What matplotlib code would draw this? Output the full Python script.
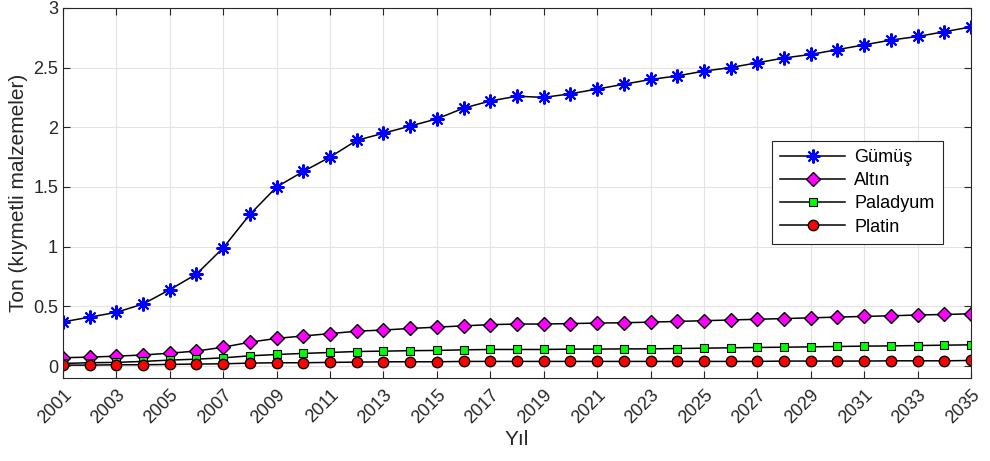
#!/usr/bin/env python3
"""Precious material tonnage by year (Gümüş, Altın, Paladyum, Platin)."""

import matplotlib

matplotlib.use("Agg")
import matplotlib.pyplot as plt
import numpy as np

years = list(range(2001, 2036))

gumus = [0.37, 0.41, 0.45, 0.52, 0.64, 0.77, 0.99, 1.27, 1.50, 1.63,
         1.75, 1.89, 1.95, 2.01, 2.07, 2.16, 2.22, 2.26, 2.25, 2.28,
         2.32, 2.36, 2.40, 2.43, 2.47, 2.50, 2.54, 2.58, 2.61, 2.65,
         2.69, 2.73, 2.76, 2.80, 2.84]

altin = [0.07, 0.075, 0.083, 0.093, 0.108, 0.126, 0.158, 0.2, 0.232, 0.252,
         0.272, 0.292, 0.302, 0.315, 0.326, 0.337, 0.347, 0.352, 0.352, 0.356,
         0.36, 0.363, 0.368, 0.374, 0.38, 0.386, 0.392, 0.398, 0.404, 0.41,
         0.416, 0.421, 0.428, 0.432, 0.438]

paladyum = [0.022, 0.028, 0.031, 0.039, 0.05, 0.058, 0.069, 0.086, 0.097, 0.106,
            0.114, 0.122, 0.125, 0.129, 0.131, 0.136, 0.139, 0.139, 0.139, 0.142,
            0.142, 0.144, 0.144, 0.147, 0.15, 0.153, 0.156, 0.158, 0.161, 0.164,
            0.167, 0.169, 0.172, 0.175, 0.178]

platin = [0.008, 0.008, 0.011, 0.011, 0.014, 0.017, 0.019, 0.025, 0.028, 0.028,
          0.031, 0.033, 0.036, 0.036, 0.036, 0.039, 0.039, 0.039, 0.039, 0.039,
          0.039, 0.039, 0.039, 0.039, 0.039, 0.039, 0.039, 0.042, 0.042, 0.042,
          0.042, 0.044, 0.044, 0.044, 0.047]


def main() -> None:
    plt.rcParams["font.family"] = ["Liberation Sans", "DejaVu Sans"]

    fig = plt.figure(figsize=(9.9, 4.61), dpi=100)
    ax = fig.add_axes([0.0636, 0.18, 0.9172, 0.803])

    # MATLAB-style asterisk: 8 spokes
    asterisk = (8, 2, 0)
    ax.plot(years, gumus, color="black", linewidth=1.1, marker=asterisk,
            markersize=10, markerfacecolor="blue", markeredgecolor="blue",
            markeredgewidth=1.5, label="Gümüş")
    ax.plot(years, altin, color="black", linewidth=1.1, marker="D",
            markersize=7.5, markerfacecolor="#ff00ff", markeredgecolor="black",
            label="Altın")
    ax.plot(years, paladyum, color="black", linewidth=1.1, marker="s",
            markersize=5.5, markerfacecolor="#00ff00", markeredgecolor="black",
            markeredgewidth=0.8, label="Paladyum")
    ax.plot(years, platin, color="black", linewidth=1.1, marker="o",
            markersize=7.5, markerfacecolor="red", markeredgecolor="black",
            label="Platin")

    ax.set_xlim(2001, 2035)
    ax.set_ylim(-0.1, 3)
    ax.set_xticks(np.arange(2001, 2036, 2))
    ax.set_yticks(np.arange(0, 3.01, 0.5))
    ax.set_yticklabels(["0", "0.5", "1", "1.5", "2", "2.5", "3"])
    plt.setp(ax.get_xticklabels(), rotation=45, ha="right",
             rotation_mode="anchor")

    ax.tick_params(direction="in", top=True, right=True, labelsize=13,
                   colors="#262626", length=5, width=0.8)
    ax.tick_params(axis="x", pad=6)
    for spine in ax.spines.values():
        spine.set_color("#262626")
        spine.set_linewidth(0.8)

    ax.grid(True, color="#e3e3e3", linewidth=0.8)
    ax.set_axisbelow(True)

    ax.set_xlabel("Yıl", fontsize=15, color="#262626", labelpad=2)
    ax.set_ylabel("Ton (kıymetli malzemeler)", fontsize=15, color="#262626",
                  labelpad=4)

    leg = ax.legend(loc="upper right", bbox_to_anchor=(0.969, 0.641),
                    borderaxespad=0.0, fontsize=13, fancybox=False,
                    framealpha=1, edgecolor="#262626", borderpad=0.45,
                    labelspacing=0.35, handlelength=3.6, handletextpad=0.5)
    leg.get_frame().set_linewidth(0.8)

    fig.savefig("out.png", dpi=100)
    plt.close(fig)


if __name__ == "__main__":
    main()
